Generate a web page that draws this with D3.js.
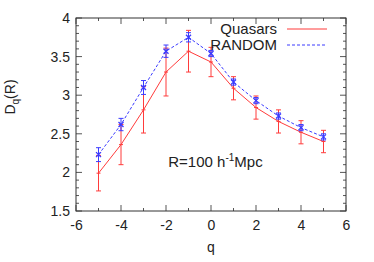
<!DOCTYPE html>
<html>
<head>
<meta charset="utf-8">
<script src="https://cdn.jsdelivr.net/npm/d3@7"></script>
<style>
  body { margin: 0; background: #fff; }
  text { font-family: "Liberation Sans", Arial, sans-serif; fill: #222; }
</style>
</head>
<body>
<div id="chart"></div>
<script>
// date
var qValues = [-5, -4, -3, -2, -1, 0, 1, 2, 3, 4, 5];
var quasarsD = [1.99, 2.36, 2.81, 3.30, 3.57, 3.43, 3.09, 2.84, 2.66, 2.52, 2.40];
var quasarsErr = [0.23, 0.26, 0.30, 0.31, 0.27, 0.19, 0.15, 0.15, 0.15, 0.15, 0.145];
var randomD = [2.23, 2.62, 3.10, 3.57, 3.75, 3.54, 3.17, 2.93, 2.73, 2.58, 2.46];
var randomErr = [0.09, 0.08, 0.09, 0.08, 0.06, 0.04, 0.04, 0.04, 0.04, 0.04, 0.04];
var xTicks = [-6, -4, -2, 0, 2, 4, 6];
var yTicks = [1.5, 2, 2.5, 3, 3.5, 4];

var svgWidth = 374;
var svgHeight = 262;
var margin = { top: 18, right: 28, bottom: 51, left: 76 };
var width = svgWidth - margin.left - margin.right;
var height = svgHeight - margin.top - margin.bottom;

var svg = d3.select("#chart")
    .append("svg")
    .attr("width", svgWidth)
    .attr("height", svgHeight);

var g = svg.append("g")
    .attr("transform", "translate(" + margin.left + "," + margin.top + ")");

var x = d3.scaleLinear().domain([-6, 6]).range([0, width]);
var y = d3.scaleLinear().domain([1.5, 4]).range([height, 0]);

// ticks minore (interior, pe toate laturile)
var xMinor = d3.range(-5, 6, 2);
var yMinor = d3.range(1.5, 4.001, 0.1).filter(function (v) {
    return Math.abs(v * 2 - Math.round(v * 2)) > 1e-6;
});
var tickColor = "#555";

function drawTicks(vals, len) {
    vals.forEach(function (v) {
        g.append("line").attr("x1", x(v)).attr("x2", x(v))
            .attr("y1", height).attr("y2", height - len).attr("stroke", tickColor);
        g.append("line").attr("x1", x(v)).attr("x2", x(v))
            .attr("y1", 0).attr("y2", len).attr("stroke", tickColor);
    });
}
function drawYTicks(vals, len) {
    vals.forEach(function (v) {
        g.append("line").attr("x1", 0).attr("x2", len)
            .attr("y1", y(v)).attr("y2", y(v)).attr("stroke", tickColor);
        g.append("line").attr("x1", width).attr("x2", width - len)
            .attr("y1", y(v)).attr("y2", y(v)).attr("stroke", tickColor);
    });
}
drawTicks(xTicks, 6);
drawTicks(xMinor, 3);
drawYTicks(yTicks, 6);
drawYTicks(yMinor, 3);

// axa X
var xAxis = g.append("g")
    .attr("transform", "translate(0," + height + ")")
    .call(d3.axisBottom(x).tickValues(xTicks).tickSize(0).tickPadding(9)
        .tickFormat(function (d) { return String(d); }));
xAxis.select(".domain").remove();
xAxis.selectAll("text").style("font-size", "14px").attr("fill", "#222");

// axa Y
var yAxis = g.append("g")
    .call(d3.axisLeft(y).tickValues(yTicks).tickSize(0).tickPadding(6)
        .tickFormat(function (d) { return String(d); }));
yAxis.select(".domain").remove();
yAxis.selectAll("text").style("font-size", "14px").attr("fill", "#222");

// cadrul
g.append("rect")
    .attr("width", width)
    .attr("height", height)
    .attr("fill", "none")
    .attr("stroke", "#333")
    .attr("stroke-width", 1);

// titluri axe
g.append("text")
    .attr("x", width / 2)
    .attr("y", height + 41)
    .attr("text-anchor", "middle")
    .style("font-size", "14px")
    .text("q");

var yl = svg.append("text")
    .attr("transform", "translate(15,97) rotate(-90)")
    .attr("text-anchor", "middle")
    .style("font-size", "14px");
yl.append("tspan").text("D");
yl.append("tspan").attr("dy", 4).style("font-size", "10px").text("q");
yl.append("tspan").attr("dy", -4).text("(R)");

// seriile
function drawSeries(vals, errs, color, dash, marker) {
    var pts = qValues.map(function (q, i) { return { q: q, v: vals[i], e: errs[i] }; });
    var line = d3.line()
        .x(function (d) { return x(d.q); })
        .y(function (d) { return y(d.v); });
    g.append("path")
        .datum(pts)
        .attr("fill", "none")
        .attr("stroke", color)
        .attr("stroke-width", 1)
        .attr("stroke-dasharray", dash)
        .attr("d", line);
    var eb = g.append("g").attr("stroke", color).attr("stroke-width", 1);
    pts.forEach(function (d) {
        var cx = x(d.q);
        eb.append("line").attr("x1", cx).attr("x2", cx)
            .attr("y1", y(d.v - d.e)).attr("y2", y(d.v + d.e));
        eb.append("line").attr("x1", cx - 2.5).attr("x2", cx + 2.5)
            .attr("y1", y(d.v - d.e)).attr("y2", y(d.v - d.e));
        eb.append("line").attr("x1", cx - 2.5).attr("x2", cx + 2.5)
            .attr("y1", y(d.v + d.e)).attr("y2", y(d.v + d.e));
        var cy = y(d.v);
        if (marker === "x") {
            eb.append("path").attr("stroke-width", 1.3)
                .attr("d", "M" + (cx - 2.5) + "," + (cy - 2.5) + "L" + (cx + 2.5) + "," + (cy + 2.5) +
                    "M" + (cx - 2.5) + "," + (cy + 2.5) + "L" + (cx + 2.5) + "," + (cy - 2.5));
        } else {
            eb.append("path")
                .attr("d", "M" + (cx - 2) + "," + cy + "L" + (cx + 2) + "," + cy);
        }
    });
}

drawSeries(quasarsD, quasarsErr, "#ff3b3b", null, "+");
drawSeries(randomD, randomErr, "#3b3bff", "3,2", "x");

// legenda
var legend = [
    { name: "Quasars", color: "#ff3b3b", dash: null, y: 29 },
    { name: "RANDOM", color: "#3b3bff", dash: "3,2", y: 45 }
];
legend.forEach(function (d) {
    svg.append("text")
        .attr("x", 277)
        .attr("y", d.y)
        .attr("dy", "0.35em")
        .attr("text-anchor", "end")
        .style("font-size", "15px")
        .text(d.name);
    svg.append("line")
        .attr("x1", 287).attr("x2", 327)
        .attr("y1", d.y).attr("y2", d.y)
        .attr("stroke", d.color)
        .attr("stroke-dasharray", d.dash);
});

// adnotare
var ann = g.append("text")
    .attr("x", x(-1.9))
    .attr("y", y(2.07))
    .style("font-size", "15px");
ann.append("tspan").text("R=100 h");
ann.append("tspan").attr("dy", -6).style("font-size", "10px").text("-1");
ann.append("tspan").attr("dy", 6).text("Mpc");
</script>
</body>
</html>
